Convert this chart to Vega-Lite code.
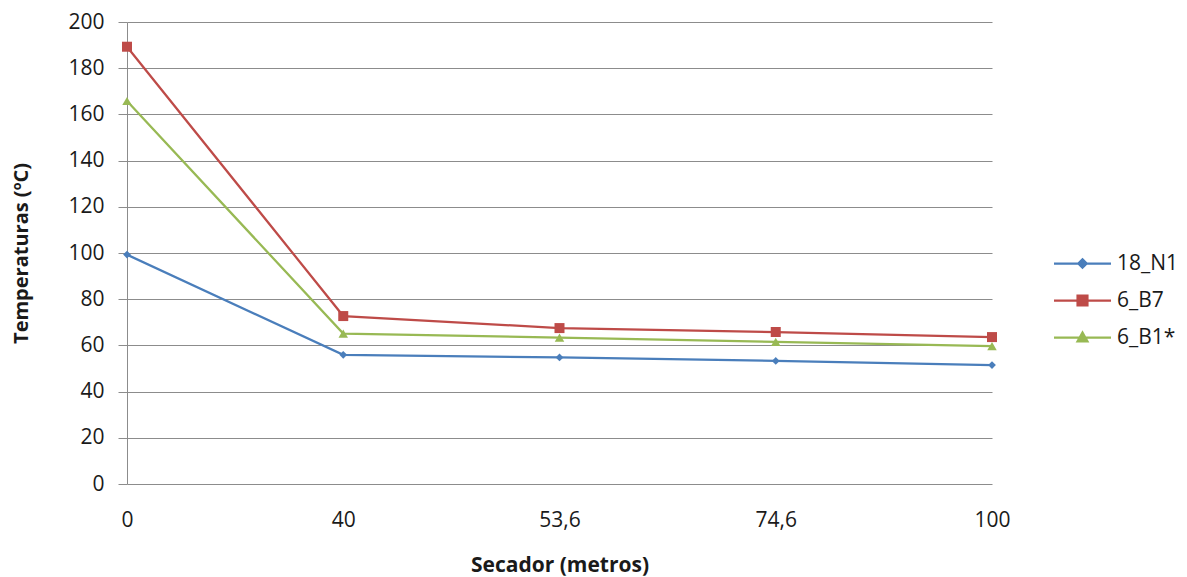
{
  "$schema": "https://vega.github.io/schema/vega-lite/v6.json",
  "width": 865,
  "height": 462,
  "autosize": "none",
  "padding": {"left": 127, "top": 22, "right": 195, "bottom": 93},
  "background": "white",
  "config": {
    "view": {"stroke": null},
    "font": "Open Sans"
  },
  "data": {
    "values": [
      {"dist": "0", "serie": "18_N1", "temp": 99.3},
      {"dist": "40", "serie": "18_N1", "temp": 55.9},
      {"dist": "53,6", "serie": "18_N1", "temp": 54.8},
      {"dist": "74,6", "serie": "18_N1", "temp": 53.3},
      {"dist": "100", "serie": "18_N1", "temp": 51.5},
      {"dist": "0", "serie": "6_B7", "temp": 189.3},
      {"dist": "40", "serie": "6_B7", "temp": 72.7},
      {"dist": "53,6", "serie": "6_B7", "temp": 67.5},
      {"dist": "74,6", "serie": "6_B7", "temp": 65.8},
      {"dist": "100", "serie": "6_B7", "temp": 63.6},
      {"dist": "0", "serie": "6_B1*", "temp": 165.8},
      {"dist": "40", "serie": "6_B1*", "temp": 65.1},
      {"dist": "53,6", "serie": "6_B1*", "temp": 63.4},
      {"dist": "74,6", "serie": "6_B1*", "temp": 61.5},
      {"dist": "100", "serie": "6_B1*", "temp": 59.7}
    ]
  },
  "encoding": {
    "x": {
      "field": "dist",
      "type": "ordinal",
      "sort": ["0", "40", "53,6", "74,6", "100"],
      "scale": {"type": "point", "padding": 0},
      "axis": {
        "title": "Secador (metros)",
        "labelAngle": 0,
        "ticks": false,
        "domain": false,
        "grid": false,
        "labelFont": "Open Sans",
        "labelFontSize": 21,
        "labelColor": "#1a1a1a",
        "labelPadding": 25,
        "titleFont": "Open Sans",
        "titleFontSize": 21,
        "titleFontWeight": "bold",
        "titleColor": "#1a1a1a",
        "titlePadding": 24
      }
    },
    "y": {
      "field": "temp",
      "type": "quantitative",
      "scale": {"domain": [0, 200], "nice": false},
      "axis": {
        "values": [0, 20, 40, 60, 80, 100, 120, 140, 160, 180, 200],
        "title": "Temperaturas (ºC)",
        "grid": true,
        "gridColor": "#8c8c8c",
        "gridWidth": 1,
        "tickColor": "#8c8c8c",
        "tickSize": 9,
        "domainColor": "#8c8c8c",
        "domainWidth": 1,
        "labelFont": "Open Sans",
        "labelFontSize": 21,
        "labelColor": "#1a1a1a",
        "labelPadding": 14,
        "titleFont": "Open Sans",
        "titleFontSize": 20,
        "titleFontWeight": "bold",
        "titleColor": "#1a1a1a",
        "titlePadding": 36
      }
    },
    "color": {
      "field": "serie",
      "type": "nominal",
      "scale": {
        "domain": ["18_N1", "6_B7", "6_B1*"],
        "range": ["#4a7ebb", "#be4b48", "#98b954"]
      },
      "legend": {
        "title": null,
        "orient": "none",
        "legendX": 935,
        "legendY": 221,
        "symbolSize": 1444,
        "symbolStrokeWidth": 2.25,
        "labelFont": "Open Sans",
        "labelFontSize": 21,
        "labelColor": "#1a1a1a",
        "labelOffset": 14,
        "rowPadding": 6,
        "encode": {
          "symbols": {
            "update": {
              "shape": {"signal": "datum.value === '18_N1' ? 'M-1.5,0H1.5M0,-0.22L0.22,0L0,0.22L-0.22,0Z' : datum.value === '6_B7' ? 'M-1.5,0H1.5M-0.26,-0.26H0.26V0.26H-0.26Z' : 'M-1.5,0H1.5M-0.26,0.2L0.26,0.2L0,-0.26Z'"},
              "fill": {"scale": "color", "field": "value"},
              "stroke": {"scale": "color", "field": "value"},
              "opacity": {"value": 1}
            }
          }
        }
      }
    }
  },
  "layer": [
    {"mark": {"type": "line", "strokeWidth": 2.25}},
    {
      "transform": [{"filter": "datum.serie === '18_N1'"}],
      "mark": {"type": "point", "filled": true, "opacity": 1, "shape": "diamond", "size": 60}
    },
    {
      "transform": [{"filter": "datum.serie === '6_B7'"}],
      "mark": {"type": "point", "filled": true, "opacity": 1, "shape": "square", "size": 100}
    },
    {
      "transform": [{"filter": "datum.serie === '6_B1*'"}],
      "mark": {"type": "point", "filled": true, "opacity": 1, "shape": "triangle-up", "size": 90}
    }
  ]
}
